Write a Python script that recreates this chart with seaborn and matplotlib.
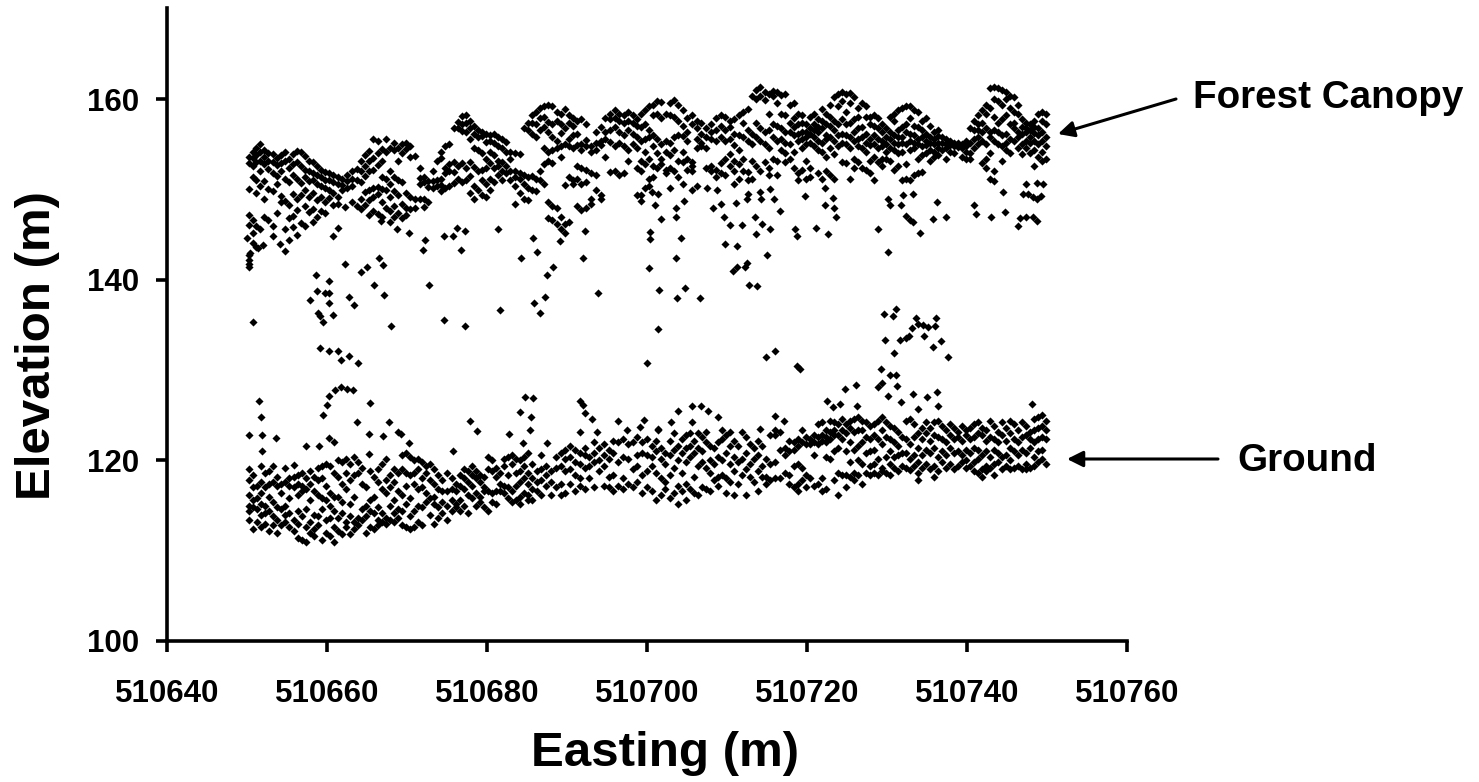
import numpy as np
import pandas as pd
import seaborn as sns
import matplotlib.pyplot as plt

# easting is stored as metres past 510640, each row is (easting, [elevations])
EAST_BASE = 510640

canopy_west = [
    (10.2, [153.6, 152.9, 150.1, 147.2, 146.1, 142.8, 141.7]), (10.7, [154.2, 153.5, 152.6, 151.4, 146.6, 145.2, 144.1]),
    (11.1, [154.6, 153.8, 153.0, 151.0, 149.6, 146.0, 143.6]), (11.6, [155.0, 154.1, 153.2, 152.1, 150.4, 145.6]),
    (12.1, [154.4, 153.6, 152.8, 150.9, 148.9, 147.0]), (12.6, [154.0, 153.2, 152.3, 150.1, 146.6]),
    (13.2, [153.9, 153.1, 151.8, 149.8, 146.0, 144.8]), (13.7, [153.5, 152.7, 151.5, 150.6, 147.4]),
    (14.2, [153.8, 152.9, 152.1, 149.3, 148.6]), (14.8, [154.1, 153.2, 151.2, 148.7, 145.6]),
    (15.3, [153.4, 152.4, 150.8, 148.3, 146.8]), (15.8, [153.9, 152.8, 151.6, 149.5, 147.1, 145.8]),
    (16.3, [154.3, 153.1, 151.2, 148.9, 147.7, 145.0]), (16.8, [154.2, 152.6, 150.7, 149.4, 146.3]),
    (17.3, [153.7, 152.2, 151.4, 150.0, 148.2, 146.0]), (17.8, [153.2, 152.0, 150.9, 149.2, 147.5]),
    (18.3, [153.0, 151.8, 151.0, 149.6, 147.8, 146.4]), (18.8, [152.6, 151.6, 150.6, 148.8, 147.0]),
    (19.2, [152.2, 151.4, 150.4, 149.2, 147.6]), (19.7, [151.9, 151.1, 150.2, 148.6, 147.4]),
    (20.3, [151.8, 151.0, 150.0, 149.1]), (20.8, [151.6, 150.8, 149.6, 148.3]),
    (21.4, [151.4, 150.6, 149.2, 148.4]), (21.9, [151.2, 150.5, 149.9]),
    (22.5, [151.6, 150.9, 150.2]), (23.1, [152.0, 151.2, 150.4, 148.6]),
    (23.7, [152.3, 151.0, 148.2]), (24.2, [153.2, 152.0, 150.8, 148.9, 147.8]),
    (24.7, [153.8, 152.6, 151.5, 149.7, 148.3]), (25.3, [154.3, 153.2, 152.0, 150.0, 148.8, 147.2]),
    (25.8, [155.6, 153.5, 152.2, 150.2, 149.2, 147.6]), (26.4, [155.4, 154.0, 152.7, 150.3, 149.5, 147.3]),
    (26.9, [154.5, 153.2, 151.4, 150.1, 148.6, 147.0]), (27.4, [155.6, 154.1, 151.2, 150.0, 148.0]),
    (27.9, [154.6, 152.0, 150.6, 149.2, 147.6]), (28.4, [155.2, 154.4, 151.4, 149.8, 148.2, 147.0]),
    (28.9, [154.6, 153.2, 151.0, 149.4, 147.4]), (29.4, [155.0, 154.0, 150.8, 148.4, 146.8]),
    (29.9, [155.2, 154.5, 149.6, 148.0, 147.2]), (30.4, [154.8, 153.6, 149.2, 147.8]),
    (31.0, [153.7, 148.9, 148.0]), (31.6, [152.4, 151.3, 150.6, 149.0]),
    (32.1, [151.4, 150.8, 148.9, 148.1]), (32.6, [150.9, 150.3, 148.6]),
    (33.2, [152.1, 150.9, 150.2]), (33.8, [153.2, 151.0, 150.4]),
    (34.3, [154.2, 153.5, 151.2, 150.5, 149.8]), (34.8, [154.8, 152.4, 151.8, 150.2]),
    (35.3, [155.0, 152.8, 152.0, 150.4]), (35.9, [156.8, 153.1, 151.9, 150.7]),
    (36.4, [157.5, 156.8, 152.6, 151.2]), (36.9, [158.1, 157.2, 156.5, 152.9, 150.8]),
    (37.4, [158.2, 157.4, 156.4, 152.4, 151.0]), (37.9, [157.6, 156.8, 155.6, 153.0, 151.5, 149.6]),
    (38.4, [157.0, 156.2, 154.6, 152.5, 150.4, 149.0]), (38.9, [156.6, 155.8, 154.4, 152.0, 150.0]),
    (39.4, [156.4, 155.9, 154.0, 152.2, 151.0, 149.4]), (39.9, [156.1, 155.3, 153.4, 152.4, 150.6, 149.2]),
    (40.4, [156.0, 155.4, 154.2, 152.9, 151.2, 150.0]), (40.9, [156.2, 155.2, 153.8, 152.4, 150.8]),
    (41.4, [155.8, 154.8, 153.2, 152.6, 151.6]), (41.9, [155.6, 154.6, 153.1, 152.0, 151.0]),
    (42.4, [155.3, 154.2, 152.6, 151.8]), (42.9, [154.2, 153.4, 152.0, 151.0]),
    (43.5, [154.0, 152.0, 151.4, 150.4, 148.4]), (44.1, [153.9, 151.8, 151.2, 149.6]),
    (44.6, [156.8, 151.6, 150.6, 149.0]), (45.1, [157.4, 156.6, 151.4, 150.2, 148.8]),
    (45.6, [158.2, 157.4, 156.2, 151.5, 150.0]), (46.1, [158.6, 157.2, 155.8, 151.2, 149.8]),
    (46.6, [159.0, 157.9, 156.6, 152.0, 151.0]), (47.1, [159.2, 158.0, 156.9, 154.6, 152.8, 150.6]),
    (47.6, [159.4, 157.5, 156.4, 154.2, 153.2, 148.6, 146.8]), (48.1, [159.2, 157.2, 155.8, 154.4, 152.9, 148.2, 146.6]),
    (48.7, [158.6, 157.6, 155.4, 154.6, 148.0, 146.2]), (49.2, [158.4, 157.2, 156.3, 154.8, 153.6, 147.0, 145.6]),
    (49.7, [158.9, 156.8, 155.0, 150.5, 146.2, 145.2]), (50.2, [158.2, 157.4, 155.6, 154.8, 151.4, 146.4]),
    (50.8, [157.9, 157.0, 156.0, 154.6, 151.0, 150.6]), (51.3, [157.6, 156.2, 154.9, 152.6, 151.2, 148.2]),
    (51.8, [157.8, 155.0, 154.4, 152.4, 150.6, 147.7]), (52.4, [157.3, 155.5, 154.8, 152.2, 150.8, 148.0]),
    (53.0, [154.8, 154.2, 151.8, 149.0, 148.4]), (53.6, [156.4, 155.2, 154.4, 151.6, 150.0]),
    (54.2, [156.9, 155.4, 154.9, 149.4, 149.0]), (54.8, [157.9, 156.4, 155.6, 153.6]),
    (55.4, [158.4, 157.8, 156.6, 155.3, 151.9]), (56.0, [158.8, 157.9, 156.9, 154.8, 152.0]),
    (56.5, [158.4, 157.6, 156.4, 155.2, 151.6]), (57.1, [158.2, 157.4, 156.0, 154.8, 151.8]),
    (57.6, [158.6, 157.6, 156.6, 154.4, 153.2]), (58.2, [158.3, 157.4, 156.2, 155.0]),
    (58.7, [157.8, 157.0, 155.8, 154.6, 152.4, 149.4]), (59.3, [158.4, 156.9, 155.4, 153.2, 152.0, 149.4]),
]

canopy_mid = [
    (59.8, [158.8, 157.2, 155.6, 154.2, 152.8, 150.2]), (60.3, [159.2, 156.6, 155.8, 153.4, 151.2, 150.4]),
    (60.8, [159.4, 158.2, 156.0, 154.8, 152.6, 151.4]), (61.3, [159.8, 158.4, 155.6, 154.0, 152.4]),
    (61.8, [159.7, 157.9, 155.0, 153.4, 152.8]), (62.4, [158.4, 155.4, 154.2, 152.2, 151.8]),
    (62.9, [159.6, 158.2, 155.2, 153.8, 152.4, 150.2]), (63.4, [159.9, 158.0, 155.8, 154.4, 152.0]),
    (63.9, [159.4, 157.6, 156.0, 153.2, 151.4]), (64.5, [158.8, 157.0, 155.9, 154.2, 153.0, 150.6]),
    (65.0, [157.9, 156.4, 155.4, 153.4, 152.2]), (65.6, [158.2, 157.2, 153.0, 152.6, 152.0]),
    (66.2, [157.6, 156.8, 155.6, 154.6, 150.4]), (66.8, [157.4, 156.2, 155.2, 154.8]),
    (67.4, [156.8, 155.8, 154.6, 152.4]), (68.0, [157.2, 156.4, 155.6, 152.6, 152.0]),
    (68.6, [157.9, 156.6, 155.4, 152.2, 151.4]), (69.2, [158.2, 157.0, 155.8, 152.9, 151.8]),
    (69.8, [158.0, 156.6, 155.4, 153.4, 151.6]), (70.4, [157.6, 156.9, 155.6, 153.9, 152.6]),
    (70.9, [157.8, 156.2, 154.9, 153.2, 152.0, 150.6]), (71.5, [158.2, 156.0, 154.4, 152.8, 151.2]),
    (72.0, [158.6, 157.4, 155.8, 153.4, 152.0]), (72.6, [158.9, 156.6, 155.4, 151.9, 151.0]),
    (73.1, [160.4, 156.2, 155.0, 153.2, 151.2]), (73.6, [161.0, 160.0, 157.4, 155.8, 152.6]),
    (74.1, [161.4, 160.4, 156.8, 155.4, 152.0]), (74.7, [160.8, 159.9, 156.4, 155.0, 153.0]),
    (75.2, [160.6, 158.4, 156.6, 154.6, 152.4, 151.6]), (75.7, [160.9, 160.3, 157.2, 155.8, 153.4]),
    (76.3, [160.8, 159.6, 157.0, 155.4, 153.2, 151.6]), (76.8, [160.5, 158.4, 156.8, 155.6, 154.4]),
    (77.3, [160.6, 158.2, 156.4, 155.2, 154.0, 153.0]), (77.9, [159.4, 157.4, 156.4, 155.0, 153.4]),
    (78.4, [159.6, 157.9, 156.9, 156.0, 154.2, 152.4]), (78.9, [158.4, 157.2, 156.2, 155.4, 151.8, 151.0]),
    (79.4, [158.2, 157.4, 156.4, 155.6, 154.6, 152.2]), (79.9, [157.2, 156.4, 155.8, 155.0, 153.2, 151.2]),
    (80.4, [158.0, 156.8, 156.2, 155.2, 152.4, 151.4]), (80.9, [158.4, 157.2, 156.6, 155.8, 154.8]),
    (81.4, [157.8, 156.9, 156.4, 155.4, 154.4, 151.8]), (81.9, [158.9, 157.6, 156.8, 155.2, 154.2, 151.2]),
    (82.4, [158.4, 157.2, 156.0, 155.6, 153.6, 152.0]), (82.9, [159.4, 158.0, 157.0, 155.8, 154.6, 151.6]),
    (83.4, [160.2, 157.6, 156.6, 155.4, 153.9, 151.2]), (83.9, [160.6, 159.2, 157.2, 156.0, 154.8]),
    (84.4, [160.8, 159.8, 157.8, 156.2, 155.2, 153.0]), (84.9, [160.6, 158.6, 157.2, 156.0, 155.0, 152.9]),
    (85.4, [160.7, 159.6, 157.4, 155.8, 154.6, 151.2]), (85.9, [160.2, 157.8, 156.4, 155.4, 153.4, 152.4]),
    (86.4, [159.0, 158.0, 156.8, 155.6, 154.8, 153.0]), (86.9, [159.6, 156.9, 155.8, 154.6, 152.4]),
    (87.4, [159.2, 158.0, 156.2, 155.2, 154.2, 152.2]), (87.9, [158.0, 157.2, 155.6, 154.9, 153.2, 151.8]),
    (88.4, [158.2, 157.0, 156.0, 155.0, 153.6, 151.0]), (88.9, [157.9, 156.8, 155.6, 154.6, 153.0]),
    (89.4, [157.2, 156.4, 155.4, 154.8, 153.4, 152.6]), (89.9, [156.8, 155.8, 155.0, 154.2, 153.4]),
    (90.4, [158.0, 156.4, 155.6, 154.6, 153.2]), (90.9, [158.4, 157.6, 156.0, 155.2, 154.4, 152.2]),
    (91.4, [158.8, 156.6, 155.8, 155.0, 154.0, 152.6]), (91.9, [159.0, 156.9, 155.8, 155.2, 154.2, 151.0]),
    (92.4, [159.3, 157.2, 156.4, 155.0, 152.8, 151.2]), (92.9, [159.2, 157.9, 156.2, 155.4, 154.4, 151.0]),
    (93.4, [158.8, 157.0, 156.0, 155.2, 154.6, 151.6]), (93.9, [158.6, 156.9, 155.6, 155.0, 153.4, 151.8]),
    (94.4, [157.6, 156.6, 155.8, 154.8, 153.8, 151.9]), (94.9, [157.9, 156.2, 155.4, 154.9, 154.0]),
    (95.4, [157.0, 155.8, 155.2, 154.4, 153.2]), (95.9, [156.4, 155.6, 155.0, 154.2, 153.6]),
    (96.4, [156.6, 155.9, 155.2, 154.6, 153.8]), (96.9, [155.8, 155.1, 154.4]),
]

canopy_east = [
    (97.4, [155.6, 155.0, 154.6, 153.4]), (97.9, [155.4, 154.9, 154.2]), (98.4, [155.2, 154.8, 154.0]),
    (98.9, [155.1, 154.7]), (99.4, [155.0, 154.6, 153.6]), (99.9, [155.4, 154.8, 154.2, 153.4]),
    (100.4, [156.8, 155.2, 154.0, 153.4]), (100.9, [157.6, 156.6, 155.6, 154.6]), (101.4, [158.2, 157.2, 156.6, 155.8, 155.0]),
    (101.9, [158.8, 157.4, 156.4, 155.4, 152.9]), (102.4, [159.4, 158.4, 156.8, 155.0, 153.4, 152.4]), (102.9, [161.2, 159.0, 156.4, 155.8, 154.0, 151.2]),
    (103.4, [161.4, 160.0, 158.0, 156.6, 155.4, 152.0, 150.9]), (103.9, [161.2, 159.8, 157.4, 156.4, 155.0]), (104.4, [161.0, 159.4, 157.8, 156.0, 154.8, 153.2]),
    (104.9, [160.8, 160.0, 158.2, 156.2, 155.2, 154.4]), (105.4, [160.4, 159.0, 157.2, 155.6, 154.0]), (105.9, [160.2, 158.6, 157.4, 156.8, 155.4]),
    (106.4, [159.4, 158.4, 156.4, 155.8, 154.6]), (106.9, [157.8, 156.9, 156.2, 155.0, 153.9]), (107.4, [157.4, 156.8, 156.4, 155.4, 154.6]),
    (107.9, [157.2, 156.6, 155.8, 155.2, 154.0]), (108.4, [157.6, 156.9, 156.3, 155.4, 154.4, 152.6]), (108.9, [158.4, 156.8, 156.0, 155.0, 153.6]),
    (109.4, [158.6, 157.6, 156.4, 155.4, 154.2, 153.2]), (109.9, [158.4, 157.2, 155.8, 154.8, 153.4]),
]

ground_west = [
    (10.2, [119.0, 117.8, 116.2, 115.0, 114.4, 113.4]), (10.7, [118.4, 117.0, 115.6, 114.8, 112.4]),
    (11.2, [117.2, 115.8, 114.6, 113.2]), (11.7, [119.4, 117.6, 116.4, 115.2, 114.0, 112.6]),
    (12.2, [118.6, 117.0, 115.0, 114.2, 113.0]), (12.7, [118.8, 117.4, 116.0, 114.4, 112.2]),
    (13.2, [119.4, 117.6, 115.4, 113.8, 112.8]), (13.7, [118.2, 117.2, 114.8, 113.4, 112.0]),
    (14.2, [117.4, 116.4, 114.6, 112.8]), (14.8, [119.2, 117.6, 115.0, 114.0, 113.2]),
    (15.3, [118.0, 117.2, 115.8, 114.2, 112.6]), (15.9, [119.5, 118.2, 117.0, 113.4, 112.2]),
    (16.4, [118.4, 117.4, 116.2, 114.4, 113.0, 111.4]), (16.9, [118.6, 117.2, 116.6, 113.8, 111.2]),
    (17.4, [118.0, 116.8, 114.6, 112.6, 111.0]), (17.9, [118.8, 117.4, 115.6, 113.2, 112.0]),
    (18.4, [118.2, 116.6, 114.0, 112.4, 111.6]), (18.9, [119.2, 117.8, 116.2, 113.8, 112.8]),
    (19.4, [119.4, 118.0, 115.8, 114.6, 111.2]), (19.9, [119.6, 117.2, 115.6, 113.4, 112.0]),
    (20.4, [119.4, 116.4, 115.0, 113.6, 111.6]), (20.9, [118.6, 116.0, 114.4, 112.6, 111.0]),
    (21.4, [120.0, 118.2, 116.0, 113.6, 112.2]), (21.9, [119.8, 117.4, 115.4, 114.2, 111.8]),
    (22.4, [120.2, 118.6, 116.8, 113.2, 112.6]), (22.9, [119.6, 117.8, 115.2, 113.8, 111.9]),
    (23.4, [120.4, 118.4, 116.0, 113.2, 112.4]), (23.9, [119.8, 118.6, 113.6, 112.8]),
    (24.4, [119.2, 117.4, 114.6, 113.4]), (24.9, [117.0, 115.0, 113.8, 112.0]),
    (25.4, [118.8, 115.6, 114.4, 112.6]), (25.9, [118.2, 116.0, 114.2, 112.4]),
    (26.4, [119.0, 117.6, 114.8, 113.4, 112.8]), (26.9, [119.6, 116.8, 114.2, 113.2]),
    (27.4, [120.2, 117.8, 116.4, 113.6, 113.0]), (27.9, [118.4, 117.0, 115.0, 113.4]),
    (28.4, [119.0, 117.6, 115.6, 114.2, 113.2]), (28.9, [118.6, 116.6, 114.6, 113.6]),
    (29.4, [120.6, 119.0, 116.2, 114.4, 112.8]), (29.9, [120.8, 118.6, 117.2, 115.2, 112.6]),
    (30.4, [120.4, 118.4, 115.8, 113.8, 112.4]), (30.9, [120.0, 118.6, 117.4, 114.4, 112.6]),
    (31.4, [120.2, 119.0, 116.8, 115.0, 113.2]), (31.9, [119.8, 118.0, 117.0, 114.8, 112.8]),
    (32.4, [119.4, 118.6, 116.4, 115.4]), (32.9, [119.6, 117.8, 115.8, 114.0]),
    (33.4, [119.0, 117.4, 116.0, 115.2, 113.0]), (33.9, [118.4, 116.8, 114.8, 113.6]),
    (34.4, [117.8, 116.6, 115.4, 114.2]), (35.0, [118.6, 116.6, 115.0, 113.4]),
    (35.6, [118.0, 116.8, 115.6, 114.4]), (36.1, [117.4, 116.6, 115.2, 114.8]),
    (36.6, [118.4, 117.2, 115.6, 114.4]), (37.1, [119.0, 118.0, 116.8, 115.0]),
    (37.6, [118.8, 117.6, 116.2, 114.2]), (38.1, [119.4, 118.4, 117.2, 115.8]),
    (38.6, [118.8, 118.0, 116.4, 115.0]), (39.1, [118.4, 117.6, 116.0, 115.4]),
    (39.6, [118.2, 117.0, 116.6, 114.8]), (40.1, [120.4, 119.0, 116.6, 114.4]),
    (40.6, [120.0, 118.8, 116.4, 115.4]), (41.1, [119.2, 118.2, 116.6, 115.2]),
    (41.6, [118.6, 117.4, 116.6]), (42.1, [120.2, 119.4, 117.2, 116.4]),
    (42.6, [120.4, 118.4, 117.0, 115.8]), (43.1, [120.6, 119.6, 116.6, 115.4]),
    (43.6, [120.2, 118.6, 117.2, 115.6]), (44.1, [120.0, 118.8, 117.6, 116.0, 115.2]),
    (44.6, [120.4, 119.4, 118.0, 116.4]), (45.1, [120.8, 118.6, 117.4, 116.2, 115.6]),
    (45.6, [119.6, 118.0, 116.8, 115.6]), (46.2, [118.8, 117.6, 116.6]),
    (46.8, [120.6, 119.0, 117.8, 116.2]), (47.4, [119.4, 118.4, 117.2]),
    (48.0, [118.8, 117.6, 116.2]), (48.6, [120.4, 119.2, 117.0]), (49.2, [120.8, 119.4, 117.4, 116.2]),
    (49.8, [121.2, 120.2, 118.8, 116.4]), (50.4, [121.6, 120.4, 119.0, 117.4]), (51.0, [121.2, 119.8, 118.4, 116.6]),
    (51.6, [120.8, 119.6, 118.0, 117.2]), (52.2, [121.4, 120.6, 119.2, 116.8]), (52.8, [120.4, 119.4, 118.0]),
    (53.4, [122.0, 120.8, 119.8, 117.0]), (54.0, [121.4, 120.0, 118.8]), (54.6, [121.8, 120.6, 119.4, 117.2]),
    (55.2, [121.2, 120.2, 118.2, 117.0]), (55.8, [122.2, 120.8, 118.4, 116.6]), (56.4, [122.0, 119.8, 117.2]),
    (57.0, [122.4, 120.4, 118.0, 116.8]), (57.6, [121.8, 120.2, 117.4]), (58.2, [122.0, 119.0, 117.0]),
    (58.8, [122.6, 120.6, 119.4, 117.6]), (59.4, [122.0, 120.8, 118.4, 116.4]),
]

ground_mid = [
    (60.0, [122.4, 120.6, 118.8, 117.0]), (60.6, [121.6, 120.4, 119.4, 116.6]), (61.1, [122.2, 121.0, 118.6, 115.6]),
    (61.7, [121.4, 120.2, 118.0, 116.2]), (62.3, [120.8, 119.6, 117.6, 116.8]), (62.9, [122.2, 120.6, 118.4, 115.8]),
    (63.4, [123.0, 121.2, 119.2, 116.4]), (63.9, [121.6, 120.0, 117.2, 115.2]), (64.4, [122.4, 120.8, 118.6, 116.6]),
    (64.9, [122.8, 121.4, 119.8, 117.4, 115.6]), (65.4, [123.0, 121.6, 120.4, 116.8]), (65.9, [122.2, 120.8, 118.2, 116.4]),
    (66.4, [123.0, 121.4, 119.4, 116.2]), (66.9, [122.6, 121.0, 119.8, 117.0]), (67.4, [123.2, 122.0, 119.2, 116.8]),
    (67.9, [121.6, 120.0, 118.6, 116.6]), (68.4, [121.4, 119.6, 117.8]), (68.9, [122.0, 120.4, 118.2, 117.2]),
    (69.4, [123.4, 122.4, 120.0, 118.4]), (69.9, [122.8, 120.8, 118.0, 116.4]), (70.4, [123.2, 121.6, 119.6, 117.6]),
    (70.9, [122.2, 120.4, 118.8, 116.2]), (71.4, [121.6, 119.8, 117.4]), (71.9, [123.2, 120.2, 118.4]),
    (72.4, [122.6, 120.8, 119.0, 116.2]), (72.9, [121.8, 119.6, 118.2]), (73.4, [121.4, 120.2, 117.6]),
    (73.9, [122.2, 120.6, 118.8, 116.6]), (74.4, [121.6, 119.4, 118.2]), (74.9, [120.2, 118.2, 117.4]),
    (75.4, [122.8, 119.6, 117.8]), (76.0, [123.4, 122.8, 119.8, 118.0]), (76.6, [123.2, 121.2, 118.0]),
    (77.2, [121.4, 120.6, 118.6]), (77.8, [122.2, 121.0, 118.4, 117.4]), (78.4, [122.0, 121.2, 119.4, 117.0]),
    (78.9, [122.4, 121.6, 119.6, 117.4, 116.6]), (79.4, [123.4, 122.0, 119.2, 117.8]), (79.9, [122.6, 121.8, 118.4, 117.0]),
    (80.4, [122.4, 121.8, 118.0]), (80.9, [122.8, 122.0, 120.6, 117.2]), (81.4, [124.0, 122.6, 121.8, 117.4]),
    (81.9, [124.2, 122.8, 122.2, 118.0, 116.6]), (82.4, [123.4, 122.6, 122.0, 120.4, 116.8]), (82.9, [124.4, 123.2, 122.4, 120.2]),
    (83.4, [124.2, 123.4, 122.8, 121.0, 117.8]), (83.9, [124.0, 122.8, 121.4, 118.6, 116.2]), (84.4, [124.6, 123.4, 122.4, 118.4]),
    (84.9, [124.0, 123.0, 121.0, 118.4, 117.0]), (85.4, [124.4, 123.6, 122.0, 119.8, 118.2]), (85.9, [124.6, 123.2, 121.2, 118.6, 117.8]),
    (86.4, [124.8, 123.4, 121.6, 120.0, 118.4]), (86.9, [124.4, 123.4, 122.0, 119.6, 117.4]), (87.4, [124.2, 122.6, 120.8, 118.6]),
    (87.9, [123.8, 122.4, 121.0, 119.4, 118.4]), (88.4, [124.0, 122.8, 121.2, 119.6, 118.6]), (88.9, [124.4, 122.4, 120.2, 118.4]),
    (89.4, [124.8, 123.4, 121.8, 119.2, 118.8]), (89.9, [124.2, 122.6, 120.4, 118.6]), (90.4, [123.8, 122.4, 121.0, 119.6, 118.4]),
    (90.9, [123.6, 122.0, 120.4, 119.2]), (91.4, [123.2, 121.6, 120.6, 118.8]), (91.9, [122.6, 120.8, 119.4]),
]

ground_east = [
    (92.4, [124.4, 122.4, 120.8, 119.2]), (92.9, [124.6, 121.8, 120.2, 118.9]), (93.4, [124.0, 122.6, 120.6, 119.4]),
    (93.9, [123.0, 121.4, 119.8, 118.6, 117.8]), (94.4, [123.6, 122.4, 120.6, 119.2]), (94.9, [124.2, 123.0, 121.2, 119.6]),
    (95.4, [123.6, 122.2, 120.8, 119.0]), (95.9, [124.2, 122.8, 121.4, 119.4, 118.2]), (96.4, [124.4, 122.6, 120.4, 118.8]),
    (96.9, [123.8, 122.4, 121.0, 119.8]), (97.4, [123.4, 122.0, 120.6, 119.2]), (97.9, [124.0, 122.8, 121.4, 119.6]),
    (98.4, [123.6, 122.4, 120.8, 119.0]), (98.9, [123.2, 122.6, 121.0, 119.4]), (99.4, [123.8, 122.2, 120.6, 119.8]),
    (99.9, [123.4, 122.8, 121.2, 120.0, 119.2]), (100.4, [123.6, 122.4, 120.8, 119.4]), (100.9, [124.0, 122.6, 121.4, 119.8, 118.8]),
    (101.4, [124.2, 123.0, 121.2, 120.2, 118.6]), (101.9, [123.6, 122.8, 120.6, 119.0, 118.2]), (102.4, [123.4, 122.2, 121.0, 119.4, 118.8]),
    (102.9, [124.4, 122.6, 120.4, 119.2]), (103.4, [123.8, 122.4, 121.2, 119.6, 118.4]), (103.9, [123.2, 122.0, 120.8, 119.8]),
    (104.4, [124.2, 122.8, 120.4, 119.0]), (104.9, [123.6, 122.2, 120.6, 119.4]), (105.4, [124.4, 123.0, 121.4, 120.0, 119.0]),
    (105.9, [124.0, 122.4, 121.0, 119.2]), (106.4, [123.4, 122.0, 120.6, 119.4]), (106.9, [124.2, 122.6, 121.2, 119.0]),
    (107.4, [123.8, 122.8, 120.8, 119.6, 119.0]), (107.9, [123.2, 122.4, 121.4, 119.2]), (108.4, [124.6, 123.4, 122.0, 120.4, 119.4]),
    (108.9, [124.8, 123.6, 122.4, 121.0, 119.8]), (109.4, [125.0, 123.8, 122.6, 121.2, 120.2]), (109.9, [124.4, 123.4, 122.4, 119.6]),
]

# sparse points between the two bands
gap_east = [10.7, 18.6, 20.2, 18.8, 19.8, 20.3, 17.9, 20.2, 18.9, 19.1, 19.5, 20.7, 22.7, 23.4, 22.3, 24.3, 25.0, 26.5, 27.0, 25.9, 27.1, 28.0,
            32.7, 34.6, 37.2, 41.6, 45.9, 46.6, 47.3, 47.5, 48.2, 44.3, 46.2, 53.9, 52.0, 60.3, 61.5, 61.4, 60.0, 19.1, 20.2, 21.4, 21.8, 22.7, 23.9,
            64.8, 63.8, 66.6, 63.6, 60.4, 60.4, 64.3, 69.8, 71.2, 75.0, 70.7, 71.2, 72.2, 72.5, 72.8, 73.7, 74.9, 76.0, 78.7, 79.1,
            88.9, 90.1, 94.1, 95.7, 97.4, 96.3, 100.9, 101.1, 103.0, 104.8, 104.5, 106.4, 106.6, 107.4, 108.3, 108.7,
            107.0, 107.6, 108.3, 108.7, 109.3, 107.4, 108.7, 109.5, 78.5, 78.7, 81.1, 82.6, 82.3, 83.2, 82.3, 83.4, 83.6,
            90.1, 90.4, 91.8, 92.0, 93.2, 92.4, 92.9, 93.3, 79.7, 76.6, 75.9, 75.4, 74.3, 74.1, 72.6, 72.5, 73.5, 74.4, 75.4, 73.6, 71.9, 70.4, 69.6,
            71.1, 69.3, 68.2, 68.7, 67.5, 65.6, 64.6, 63.6, 63.6, 61.8, 61.0, 60.6, 61.4, 59.3,
            10.0, 10.2, 10.3, 10.4, 11.4, 12.0, 14.1, 15.2, 14.7, 20.7, 21.4, 22.3, 26.8, 27.9, 28.7, 30.2, 32.0, 32.3, 34.6, 35.7, 36.3, 37.2, 36.8, 41.4, 45.7, 52.3, 49.1]
gap_elev = [135.3, 140.5, 139.9, 138.8, 138.5, 138.5, 137.8, 137.4, 136.3, 136.0, 135.3, 136.1, 138.1, 137.2, 141.8, 140.9, 141.4, 142.4, 141.6, 139.4, 138.3, 134.9,
            139.4, 135.6, 134.9, 136.7, 137.4, 136.3, 138.1, 140.5, 141.4, 142.4, 143.1, 138.5, 142.4, 141.3, 138.9, 134.5, 130.8, 132.5, 132.1, 132.1, 131.1, 131.6, 130.8,
            139.1, 138.0, 138.0, 142.4, 145.3, 144.5, 144.6, 144.0, 143.7, 142.8, 141.0, 141.4, 141.4, 141.9, 139.4, 139.3, 131.5, 132.1, 130.4, 130.1,
            145.6, 143.1, 145.2, 146.7, 147.0, 148.6, 148.3, 147.3, 147.0, 147.5, 149.7, 146.0, 146.8, 147.0, 147.0, 146.5,
            149.5, 149.5, 149.2, 148.9, 149.3, 150.6, 150.7, 150.6, 145.6, 144.9, 145.7, 145.1, 150.2, 149.1, 148.3, 148.0, 146.9,
            148.9, 148.3, 148.3, 149.4, 149.5, 147.1, 146.6, 146.4, 149.3, 147.6, 148.9, 150.1, 148.9, 149.7, 149.5, 149.0, 147.0, 146.2, 145.6, 145.1, 146.1, 146.1, 146.9,
            148.5, 148.4, 148.0, 150.0, 150.2, 150.0, 148.7, 148.0, 147.0, 146.7, 148.3, 149.7, 149.5, 148.7,
            144.6, 141.4, 142.2, 143.0, 143.5, 143.8, 144.0, 144.4, 143.2, 144.9, 145.7, 148.1, 146.5, 146.4, 145.6, 145.2, 143.3, 144.4, 144.9, 144.9, 145.7, 145.4, 143.3, 145.6, 144.6, 145.4, 144.3]

# sparse points just above the ground band
rise_east = [11.5, 11.8, 10.3, 11.9, 13.6, 11.9, 17.4, 19.0, 20.2, 20.9, 19.5, 20.0, 20.2, 21.0, 21.8, 22.5, 23.2, 25.4, 23.7, 25.2, 25.3, 27.0, 27.7, 28.9, 29.3, 30.2, 35.7,
             37.9, 38.7, 42.7, 44.1, 44.8, 45.7, 45.5, 45.4, 44.5, 47.5, 51.6, 52.0, 52.3, 53.1, 51.6, 53.7, 56.4, 57.5, 59.6, 59.1, 61.4,
             63.9, 65.6, 66.7, 67.6, 68.9, 65.6, 63.0, 61.4, 74.1, 76.0, 77.1,
             82.5, 84.1, 83.2, 84.7, 86.1, 86.3, 88.9, 89.4, 90.1, 91.2, 91.8, 93.2, 95.0, 96.3, 96.4, 93.9,
             89.3, 90.4, 91.1, 90.9, 89.8, 91.6, 92.4, 92.8, 89.6, 90.7, 91.1, 93.6, 96.1, 93.1, 93.9, 94.5, 95.1, 96.0, 94.6, 95.8, 96.8, 97.6, 108.1]
rise_elev = [126.6, 124.8, 122.8, 122.8, 122.5, 121.0, 121.6, 121.6, 122.5, 122.0, 125.0, 126.1, 127.1, 127.8, 128.1, 127.9, 127.8, 126.4, 124.3, 122.9, 120.7, 122.7, 124.3, 123.1, 122.9, 121.9, 121.0,
             124.4, 123.3, 122.9, 125.4, 127.0, 126.9, 124.8, 123.4, 121.9, 121.9, 126.6, 126.1, 125.2, 124.6, 123.1, 123.1, 124.4, 123.4, 124.5, 123.7, 123.4,
             125.5, 126.0, 126.0, 125.5, 124.8, 124.3, 124.2, 123.5, 123.5, 124.9, 124.4,
             126.6, 126.3, 125.9, 127.9, 128.4, 126.0, 128.1, 128.6, 127.1, 128.2, 126.5, 127.4, 127.0, 127.6, 126.0, 125.7,
             130.1, 129.5, 129.5, 131.9, 133.3, 133.3, 133.6, 133.8, 136.2, 136.0, 136.8, 135.8, 135.8, 134.7, 135.1, 135.0, 134.8, 134.9, 133.8, 132.6, 133.2, 131.4, 126.3]

x_ticks = [510640, 510660, 510680, 510700, 510720, 510740, 510760]
y_ticks = [100, 120, 140, 160]

W, H = 1479, 782

east = []
elev = []
for band in [canopy_west, canopy_mid, canopy_east, ground_west, ground_mid, ground_east]:
    for x, ys in band:
        east += [x] * len(ys)
        elev += ys
east += gap_east + rise_east
elev += gap_elev + rise_elev
df = pd.DataFrame({'Easting': np.array(east) + EAST_BASE, 'Elevation': elev})

sns.set_style('white')
plt.rcParams['font.family'] = ['Liberation Sans', 'DejaVu Sans']
plt.rcParams['text.color'] = 'black'
plt.rcParams['axes.labelcolor'] = 'black'
plt.rcParams['xtick.color'] = 'black'
plt.rcParams['ytick.color'] = 'black'

fig = plt.figure(figsize=(W / 100, H / 100), dpi=100)
ax = fig.add_axes([167 / W, 1 - 641 / H, (1127 - 167) / W, (641 - 8) / H])

sns.scatterplot(data=df, x='Easting', y='Elevation', marker='D', s=17, color='black', linewidth=0, ax=ax, clip_on=False)

ax.set_xlim(510640, 510760)
ax.set_ylim(100, 170.1)
ax.set_xticks(x_ticks)
ax.set_yticks(y_ticks)
ax.ticklabel_format(useOffset=False, style='plain')
ax.tick_params(axis='both', which='major', length=8, width=2.6, color='black', labelsize=22.5,
               bottom=True, left=True)
ax.tick_params(axis='x', pad=19)
ax.tick_params(axis='y', pad=12)
for lab in ax.get_xticklabels() + ax.get_yticklabels():
    lab.set_fontweight('bold')

ax.spines['top'].set_visible(False)
ax.spines['right'].set_visible(False)
for side in ['left', 'bottom']:
    ax.spines[side].set_linewidth(2.6)
    ax.spines[side].set_color('black')

ax.set_xlabel('')
ax.set_ylabel('')

# annotations and axis titles placed in figure pixels
def frac(px, py):
    return (px / W, 1 - py / H)

fig.text(*frac(665, 753), 'Easting (m)', fontsize=35.5, fontweight='bold', ha='center', va='center')
fig.text(*frac(38, 345), 'Elevation (m)', fontsize=35.5, fontweight='bold', ha='center', va='center', rotation=90)

arrow = dict(arrowstyle='-|>', color='black', lw=2.2, mutation_scale=24, shrinkA=0, shrinkB=0)
ax.annotate('', xy=frac(1058, 134), xytext=frac(1176, 99), xycoords='figure fraction', textcoords='figure fraction', arrowprops=arrow)
ax.annotate('', xy=frac(1067, 459), xytext=frac(1218, 459), xycoords='figure fraction', textcoords='figure fraction', arrowprops=arrow)
fig.text(*frac(1193, 98), 'Forest Canopy', fontsize=27.8, fontweight='bold', ha='left', va='center')
fig.text(*frac(1237, 461), 'Ground', fontsize=27.8, fontweight='bold', ha='left', va='center')

fig.savefig('out.png', dpi=100)
